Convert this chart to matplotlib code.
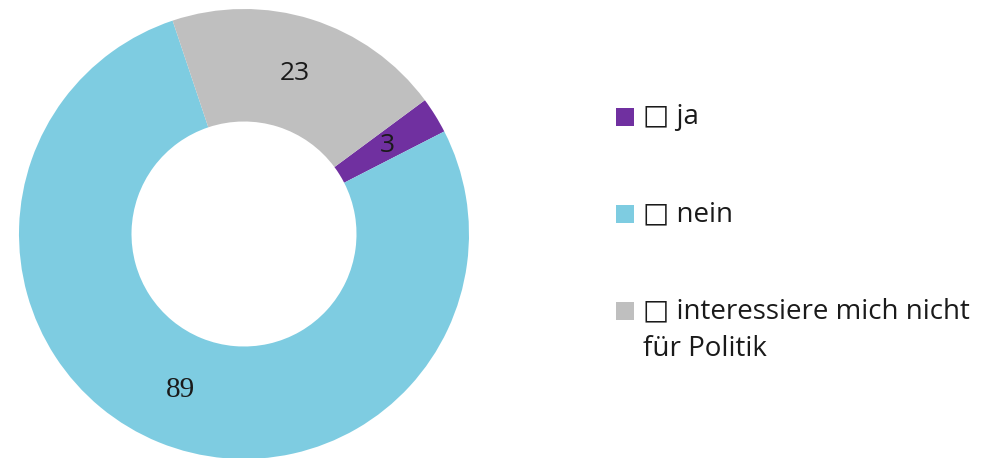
import matplotlib.pyplot as plt
from matplotlib.patches import Rectangle

labels = ['\u25a1 ja', '\u25a1 nein', '\u25a1 interessiere mich nicht\nfür Politik']
values = [3, 89, 23]
colors = ['#7030a0', '#7ecce1', '#bfbfbf']

plt.rcParams['font.family'] = ['Open Sans', 'DejaVu Sans']

fig = plt.figure(figsize=(9.83, 4.58), dpi=100)
W, H = 983, 458
cx, cy, r = 244, 234, 225
ax = fig.add_axes([(cx - r) / W, (H - cy - r) / H, 2 * r / W, 2 * r / H])

wedges, texts, autotexts = ax.pie(values, colors=colors, startangle=36.5, counterclock=False,
                                  radius=1, pctdistance=0.75,
                                  autopct=lambda p: '%d' % round(p * sum(values) / 100),
                                  wedgeprops=dict(width=0.5, linewidth=0),
                                  textprops=dict(fontsize=19, color='#1a1a1a'))
autotexts[1].set_family('Liberation Serif')
autotexts[1].set_fontsize(21)
ax.set_xlim(-1, 1)
ax.set_ylim(-1, 1)
ax.set_aspect('equal')

# legend drawn by hand so the swatch sits on the first line
for i, (lab, col) in enumerate(zip(labels, colors)):
    yc = 117 + i * 97
    fig.add_artist(Rectangle((616 / W, 1 - (yc + 9) / H), 18 / W, 18 / H,
                             transform=fig.transFigure, color=col, lw=0))
    for k, line in enumerate(lab.split('\n')):
        fig.text(643 / W, 1 - (yc + k * 38) / H, line, fontsize=20,
                 color='#1a1a1a', va='center')

fig.savefig('out.png', dpi=100)
